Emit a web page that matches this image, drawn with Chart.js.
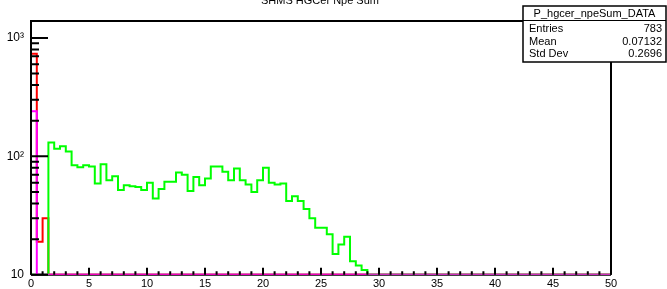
<!DOCTYPE html>
<html>
<head>
<meta charset="utf-8">
<script src="https://cdn.jsdelivr.net/npm/chart.js@4/dist/chart.umd.min.js"></script>
<style>
  html, body { margin: 0; padding: 0; background: #fff; }
</style>
</head>
<body>
<canvas id="myChart" width="667" height="289"></canvas>
<script>
const histTitle = 'SHMS HGCer Npe Sum';
const statsName = 'P_hgcer_npeSum_DATA';
const statsLabels = ['Entries', 'Mean', 'Std Dev'];
const statsValues = ['783', '0.07132', '0.2696'];

// x axis: 100 bins of 0.5 from 0 to 50
const xMin = 0;
const xMax = 50;
const binWidth = 0.5;
const nBins = 100;
const xTickLabels = ['0', '5', '10', '15', '20', '25', '30', '35', '40', '45', '50'];

// y axis (log)
const yMin = 10;
const yMax = 1390;
const yTickValues = [10, 100, 1000];
const yTickLabels = ['10', '10²', '10³'];

// counts of the non-empty bins, starting at bin index *Start; all other bins are 0
const redStart = 0;
const redCounts = [734, 19, 30];
const magentaStart = 0;
const magentaCounts = [240];
const greenStart = 3;
const greenCounts = [131, 116, 122, 110, 84, 81, 84, 82, 59, 86,
                     63, 68, 52, 57, 56, 55, 52, 60, 44, 53,
                     61, 61, 73, 70, 51, 67, 57, 65, 82, 82,
                     74, 63, 79, 63, 58, 50, 63, 80, 60, 58,
                     59, 42, 46, 42, 36, 30, 25, 25, 22, 15,
                     18, 21, 13, 12, 11, 10, 10];

// histogram outline: one point per bin low edge + last edge, empty bins sit on the frame bottom
function histPoints(start, counts) {
    let pts = [];
    let last = yMin;
    for (let i = 0; i < nBins; i++) {
        let c = (i >= start && i < start + counts.length) ? counts[i - start] : 0;
        last = Math.max(c, yMin);
        pts.push({x: xMin + i * binWidth, y: last});
    }
    pts.push({x: xMax, y: last});
    return pts;
}

function histSet(label, color, start, counts) {
    return {
        label: label,
        data: histPoints(start, counts),
        borderColor: color,
        borderWidth: 2,
        stepped: true,
        pointRadius: 0,
        fill: false,
        borderJoinStyle: 'miter'
    };
}

const rootFrame = {
    id: 'rootFrame',
    beforeDatasetsDraw(chart) {
        const {ctx, chartArea: a} = chart;
        ctx.save();
        ctx.strokeStyle = '#000';
        ctx.lineWidth = 2;
        ctx.beginPath();
        ctx.moveTo(a.left, a.bottom);
        ctx.lineTo(a.right, a.bottom);
        ctx.stroke();
        ctx.restore();
    },
    afterDatasetsDraw(chart) {
        const {ctx, chartArea: a} = chart;
        const xs = chart.scales.x, ys = chart.scales.y;
        ctx.save();
        ctx.strokeStyle = '#000';
        ctx.lineWidth = 2;
        ctx.beginPath();
        ctx.moveTo(a.left, a.bottom);
        ctx.lineTo(a.left, a.top);
        ctx.lineTo(a.right, a.top);
        ctx.lineTo(a.right, a.bottom);
        ctx.stroke();

        // x ticks, inside the frame
        ctx.beginPath();
        for (let v = xMin; v <= xMax; v++) {
            const px = xs.getPixelForValue(v);
            const len = v % 5 === 0 ? 7 : 3.5;
            ctx.moveTo(px, a.bottom);
            ctx.lineTo(px, a.bottom - len);
        }
        // y ticks
        for (let d = 10; d <= 1000; d *= 10) {
            for (let m = 1; m <= 9; m++) {
                const v = d * m;
                if (v > yMax) break;
                const py = ys.getPixelForValue(v);
                const len = m === 1 ? 17 : 8;
                ctx.moveTo(a.left, py);
                ctx.lineTo(a.left + len, py);
            }
        }
        ctx.stroke();

        // stats box
        const bx = 523, by = 6, bw = 143, bh = 56;
        ctx.fillStyle = '#fff';
        ctx.fillRect(bx, by, bw, bh);
        ctx.lineWidth = 1.5;
        ctx.strokeRect(bx, by, bw, bh);
        ctx.lineWidth = 1;
        ctx.beginPath();
        ctx.moveTo(bx, 20.5);
        ctx.lineTo(bx + bw, 20.5);
        ctx.stroke();

        ctx.fillStyle = '#000';
        ctx.font = '11px "Liberation Sans", Arial, sans-serif';
        ctx.textBaseline = 'alphabetic';
        ctx.textAlign = 'center';
        ctx.fillText(statsName, bx + bw / 2, 17);
        const rows = [32, 45, 57];
        statsLabels.forEach((s, i) => {
            ctx.textAlign = 'left';
            ctx.fillText(s, bx + 6, rows[i]);
            ctx.textAlign = 'right';
            ctx.fillText(statsValues[i], bx + bw - 4, rows[i]);
        });

        // title, cut by the top of the picture
        ctx.textAlign = 'center';
        ctx.fillText(histTitle, 320, 4);
        ctx.restore();
    }
};

const ctx1 = document.getElementById('myChart');
const myChart = new Chart(ctx1, {
    type: 'line',
    data: {
        datasets: [
            histSet('magenta', '#ff00ff', magentaStart, magentaCounts),
            histSet('green', '#00ff00', greenStart, greenCounts),
            histSet('red', '#ff0000', redStart, redCounts)
        ]
    },
    options: {
        responsive: false,
        animation: false,
        devicePixelRatio: 1,
        layout: { padding: { top: 21, right: 56, left: 0, bottom: 0 } },
        plugins: {
            legend: { display: false },
            tooltip: { enabled: false },
            title: { display: false }
        },
        scales: {
            x: {
                type: 'linear',
                min: xMin,
                max: xMax,
                grid: { display: false, drawTicks: false },
                border: { display: false },
                ticks: {
                    stepSize: 5,
                    autoSkip: false,
                    maxRotation: 0,
                    padding: 3,
                    color: '#000',
                    font: { family: '"Liberation Sans", Arial, sans-serif', size: 11 },
                    callback: (v, i) => xTickLabels[i]
                },
                afterFit: s => { s.height = 14; }
            },
            y: {
                type: 'logarithmic',
                min: yMin,
                max: yMax,
                grid: { display: false, drawTicks: false },
                border: { display: false },
                afterBuildTicks: s => { s.ticks = yTickValues.map(v => ({value: v})); },
                ticks: {
                    crossAlign: 'near',
                    padding: 7,
                    color: '#000',
                    font: { family: '"Liberation Sans", Arial, sans-serif', size: 12 },
                    callback: (v) => yTickLabels[yTickValues.indexOf(v)]
                },
                afterFit: s => { s.width = 31; }
            }
        }
    },
    plugins: [rootFrame]
});
</script>
</body>
</html>
